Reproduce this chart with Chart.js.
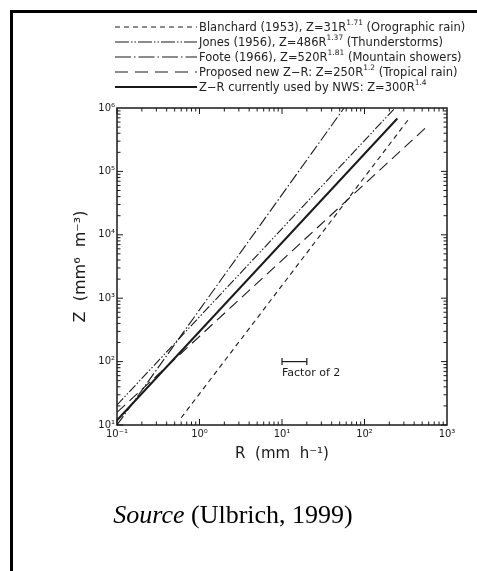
<!DOCTYPE html>
<html><head><meta charset="utf-8">
<script src="https://cdn.jsdelivr.net/npm/chart.js@4.4.1/dist/chart.umd.min.js"></script>
<style>
html,body{margin:0;padding:0;background:#fff;width:477px;height:571px;overflow:hidden;}
body{position:relative;}
#frame{position:absolute;left:10px;top:10px;width:600px;height:700px;border-left:3px solid #000;border-top:3px solid #000;}
#c{position:absolute;left:0;top:0;}
#legend{position:absolute;left:0;top:0;font-family:"DejaVu Sans";font-size:11.5px;color:#222;}
.row{position:absolute;left:115px;height:14px;line-height:14px;white-space:nowrap;display:flex;align-items:center;}
.row svg{display:block;margin-right:2px;}
.row sup{font-size:7.5px;line-height:0;position:relative;top:-1px;}
#source{position:absolute;left:0;width:466px;top:500px;text-align:center;font-family:"Liberation Serif";font-size:26px;color:#000;}
</style></head>
<body>
<div id="frame"></div>
<canvas id="c" width="477" height="571"></canvas>
<div id="legend"></div>
<div id="source"><i>Source</i> (Ulbrich, 1999)</div>
<script>
// ---- data ----
const seriesPrefix = ['Blanchard (1953), ', 'Jones (1956), ', 'Foote (1966), ', 'Proposed new Z\u2212R: ', 'Z\u2212R currently used by NWS: '];
const seriesCoef = ['31', '486', '520', '250', '300'];
const seriesExp = ['1.71', '1.37', '1.81', '1.2', '1.4'];
const seriesNote = ['(Orographic rain)', '(Thunderstorms)', '(Mountain showers)', '(Tropical rain)', ''];

const blanchardR = [0.6, 350];
const blanchardZ = [13, 690000];
const jonesR = [0.1, 234];
const jonesZ = [20.7, 1000000];
const footeR = [0.1, 56.5];
const footeZ = [10, 1000000];
const proposedR = [0.1, 590];
const proposedZ = [15.8, 530000];
const nwsR = [0.1, 250];
const nwsZ = [11.9, 684000];

const factorR = [10, 20];
const factorZ = [100, 100];
const factorLabel = 'Factor of 2';

const xTickValues = [0.1, 1, 10, 100, 1000];
const xTickLabels = ['10\u207B\u00B9', '10\u2070', '10\u00B9', '10\u00B2', '10\u00B3'];
const yTickValues = [10, 100, 1000, 10000, 100000, 1000000];
const yTickLabels = ['10\u00B9', '10\u00B2', '10\u00B3', '10\u2074', '10\u2075', '10\u2076'];
const xTitle = 'R  (mm  h\u207B\u00B9)';
const yTitle = 'Z  (mm\u2076  m\u207B\u00B3)';

// ---- styles ----
const ink = '#1a1a1a';
const styles = [
  {dash: [5, 4], width: 1.1},
  {dash: [9, 2, 1.5, 2, 1.5, 2], width: 1.1},
  {dash: [11, 2.5, 1.5, 2.5], width: 1.1},
  {dash: [11, 6], width: 1.1},
  {dash: [], width: 2}
];
const legendDash = ['5,4', '14,2,1.5,2,1.5,2', '16,3,1.5,3', '13,7', ''];

const seriesR = [blanchardR, jonesR, footeR, proposedR, nwsR];
const seriesZ = [blanchardZ, jonesZ, footeZ, proposedZ, nwsZ];

const datasets = seriesR.map((rs, i) => ({
  data: rs.map((r, j) => ({x: r, y: seriesZ[i][j]})),
  showLine: true, pointRadius: 0, borderColor: ink, borderWidth: styles[i].width,
  borderDash: styles[i].dash, fill: false, tension: 0
}));
datasets.push({
  data: factorR.map((r, j) => ({x: r, y: factorZ[j]})),
  showLine: true, borderColor: ink, borderWidth: 1.2,
  pointStyle: 'line', rotation: 90, pointRadius: 3.5, pointBorderWidth: 1.2, pointBorderColor: ink
});

// legend (HTML)
const leg = document.getElementById('legend');
const rowCenters = [27, 42, 57, 72, 87];
seriesPrefix.forEach((p, i) => {
  const d = document.createElement('div');
  d.className = 'row';
  d.style.top = (rowCenters[i] - 7) + 'px';
  const dash = legendDash[i] ? ` stroke-dasharray="${legendDash[i]}"` : '';
  d.innerHTML = `<svg width="82" height="6"><line x1="0" y1="3" x2="82" y2="3" stroke="${ink}" stroke-width="${styles[i].width}"${dash}/></svg>` +
    `<span>${p}Z=${seriesCoef[i]}R<sup>${seriesExp[i]}</sup>${seriesNote[i] ? ' ' + seriesNote[i] : ''}</span>`;
  leg.appendChild(d);
});

const frameTicks = {
  id: 'frameTicks',
  afterDatasetsDraw(chart) {
    const {ctx, chartArea: a, scales: {x, y}} = chart;
    ctx.save();
    ctx.strokeStyle = ink;
    ctx.lineWidth = 1;
    ctx.beginPath();
    for (let e = -1; e < 3; e++) for (let m = 1; m < 10; m++) {
      const px = x.getPixelForValue(m * Math.pow(10, e));
      const L = m === 1 ? 6 : 3.5;
      ctx.moveTo(px, a.bottom); ctx.lineTo(px, a.bottom - L);
      ctx.moveTo(px, a.top); ctx.lineTo(px, a.top + L);
    }
    for (let e = 1; e < 6; e++) for (let m = 1; m < 10; m++) {
      const py = y.getPixelForValue(m * Math.pow(10, e));
      const L = m === 1 ? 6 : 3.5;
      ctx.moveTo(a.left, py); ctx.lineTo(a.left + L, py);
      ctx.moveTo(a.right, py); ctx.lineTo(a.right - L, py);
    }
    ctx.stroke();
    ctx.lineWidth = 1.5;
    ctx.strokeRect(a.left, a.top, a.right - a.left, a.bottom - a.top);
    ctx.fillStyle = ink;
    ctx.font = '11px "DejaVu Sans"';
    ctx.textAlign = 'left';
    ctx.textBaseline = 'middle';
    ctx.fillText(factorLabel, x.getPixelForValue(factorR[0]), y.getPixelForValue(factorZ[0]) + 12);
    ctx.restore();
  }
};

new Chart(document.getElementById('c'), {
  type: 'scatter',
  data: {datasets},
  options: {
    responsive: false, animation: false, devicePixelRatio: 1,
    layout: {padding: {left: 71.6, top: 108, right: 30, bottom: 107.6}},
    plugins: {legend: {display: false}, tooltip: {enabled: false}},
    scales: {
      x: {
        type: 'logarithmic', min: 0.1, max: 1000, position: 'bottom',
        afterBuildTicks: s => { s.ticks = xTickValues.map(v => ({value: v})); },
        afterFit: s => { s.height = 38.4; },
        grid: {display: false, drawTicks: false}, border: {display: false},
        ticks: {callback: (v, i) => xTickLabels[i], font: {family: 'DejaVu Sans', size: 10}, color: ink, padding: 3, maxRotation: 0, autoSkip: false},
        title: {display: true, text: xTitle, font: {family: 'DejaVu Sans', size: 15}, color: ink, padding: 0}
      },
      y: {
        type: 'logarithmic', min: 10, max: 1000000, position: 'left',
        afterBuildTicks: s => { s.ticks = yTickValues.map(v => ({value: v})); },
        afterFit: s => { s.width = 45.4; },
        grid: {display: false, drawTicks: false}, border: {display: false},
        ticks: {callback: (v, i) => yTickLabels[i], font: {family: 'DejaVu Sans', size: 10}, color: ink, padding: 2, autoSkip: false},
        title: {display: true, text: yTitle, font: {family: 'DejaVu Sans', size: 16}, color: ink, padding: 0}
      }
    }
  },
  plugins: [frameTicks]
});
</script>
</body></html>
